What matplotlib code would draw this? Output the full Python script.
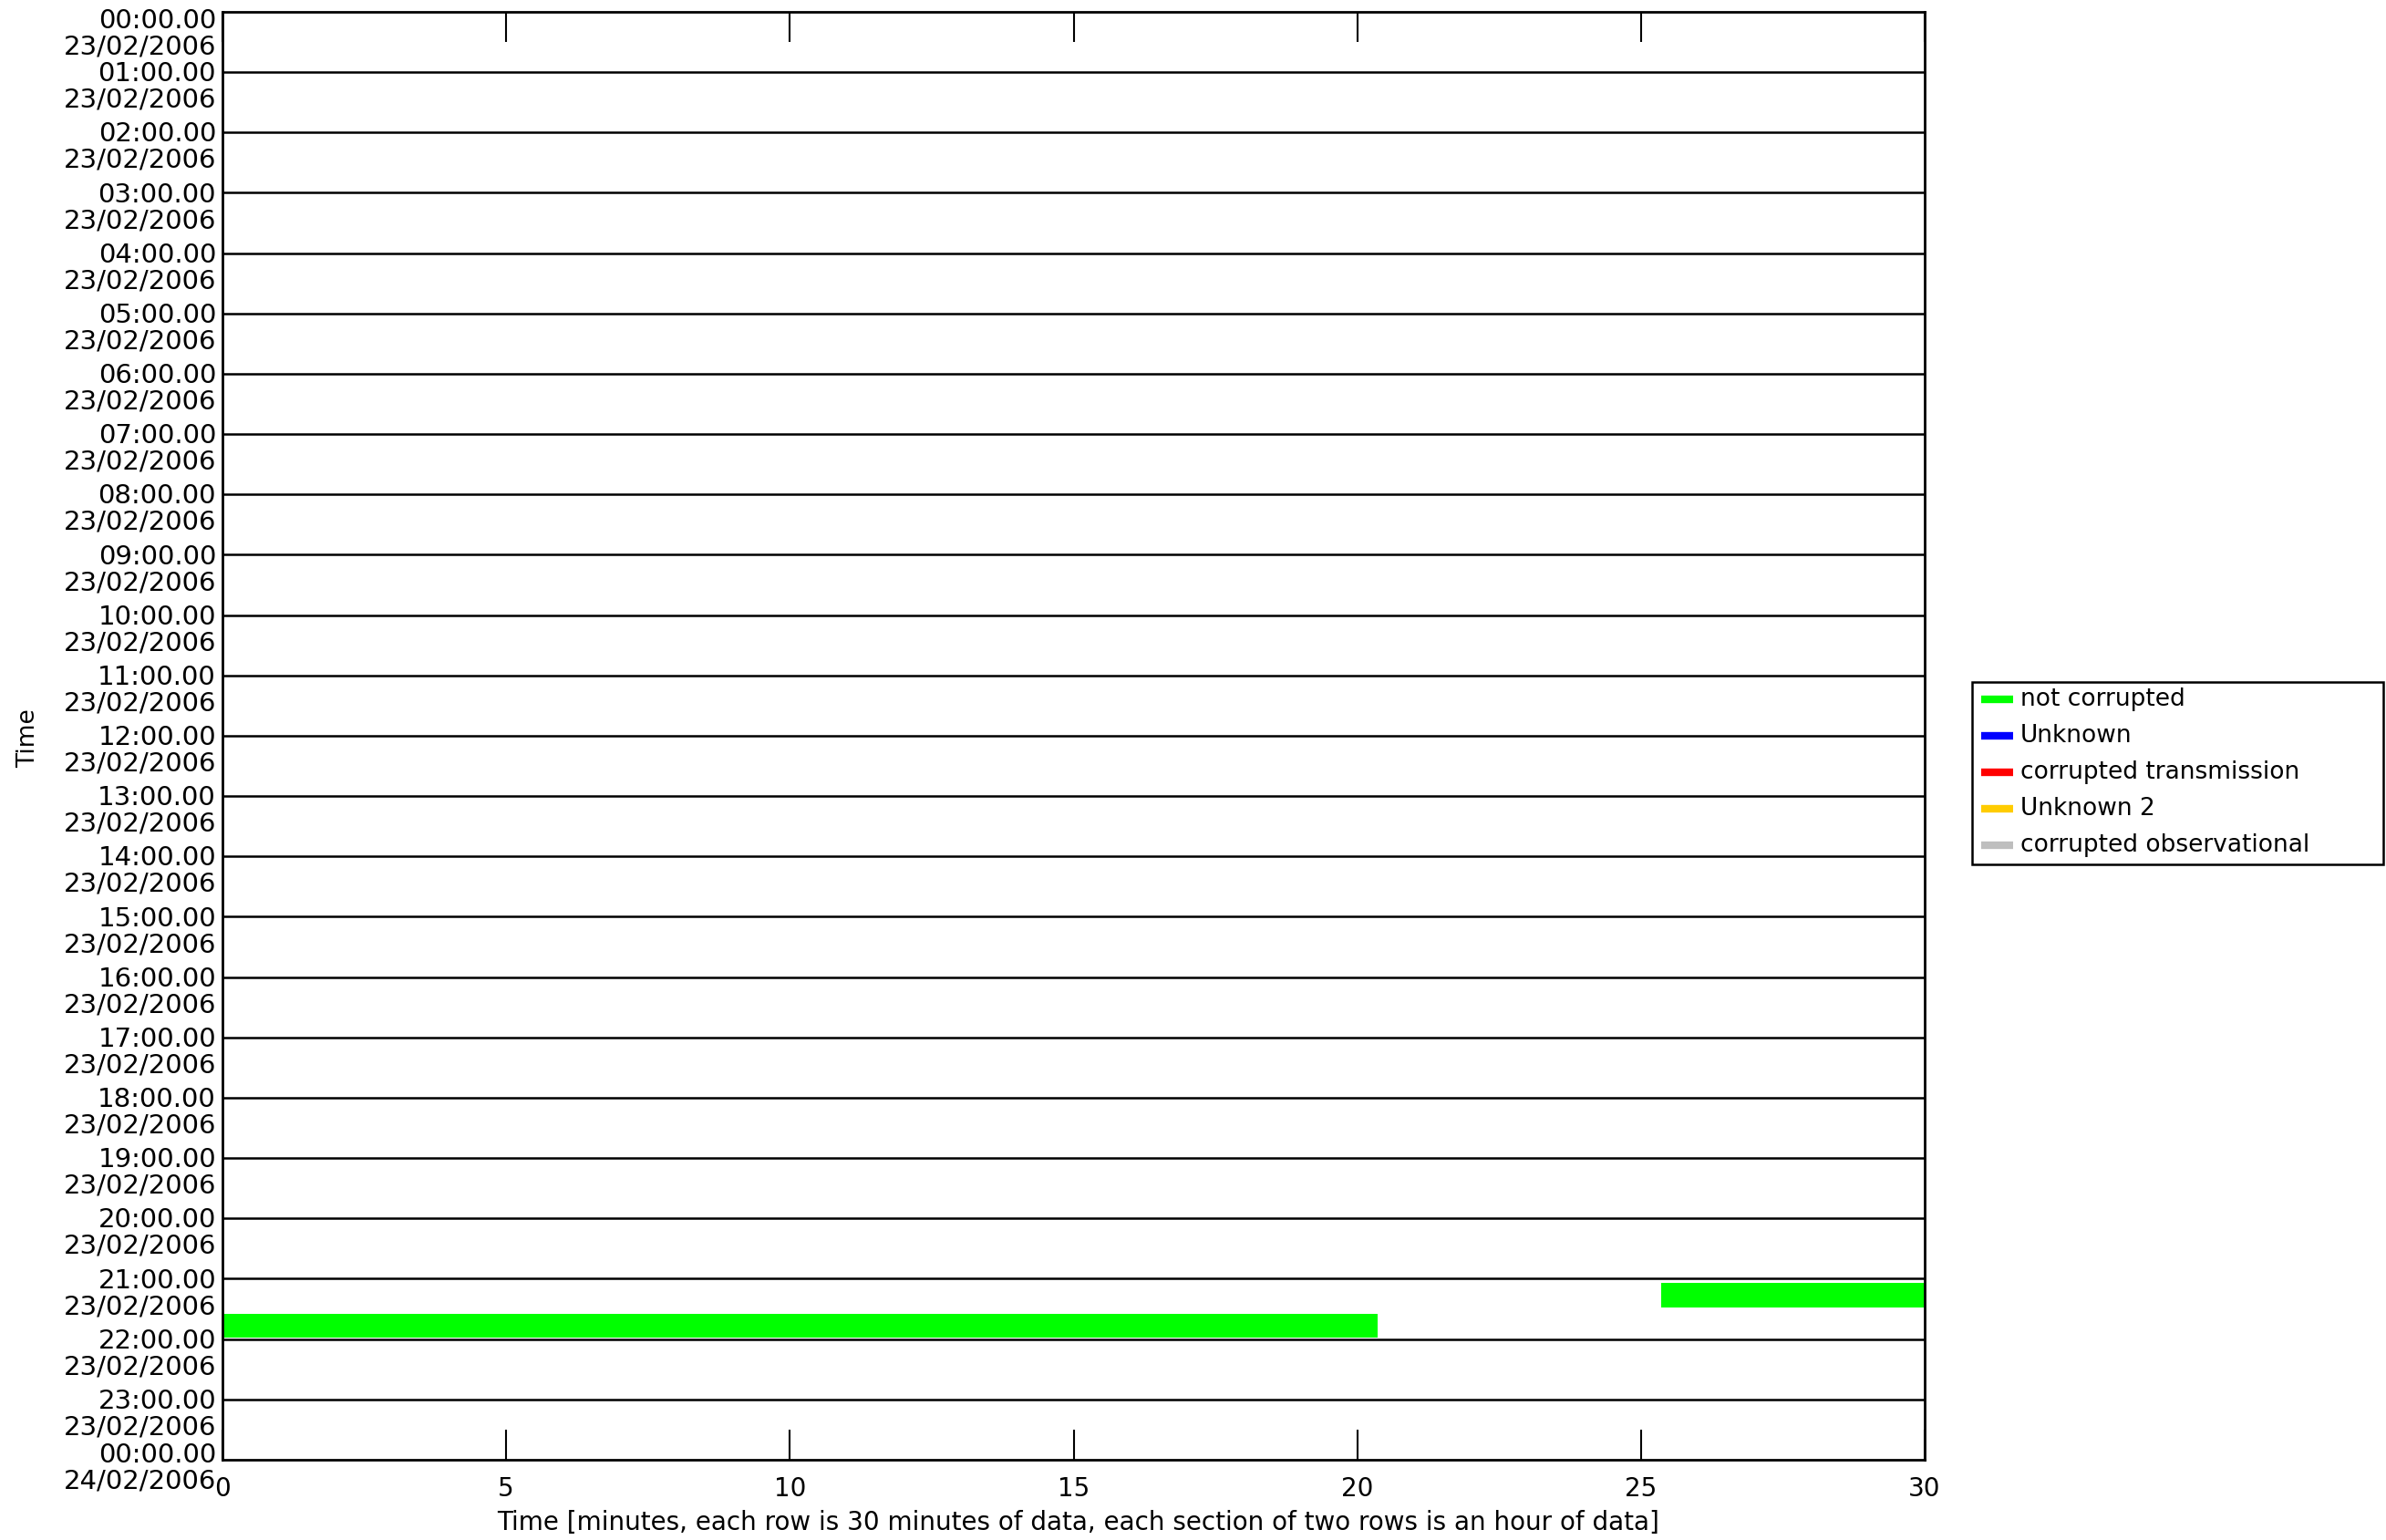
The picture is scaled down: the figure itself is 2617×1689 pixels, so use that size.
import matplotlib
matplotlib.use("Agg")
import matplotlib.pyplot as plt
from matplotlib.patches import Rectangle
from matplotlib.lines import Line2D

# ---- data ----
hour_labels = ["%02d:00.00" % h for h in range(24)] + ["00:00.00"]
date_labels = ["23/02/2006"] * 24 + ["24/02/2006"]
x_ticks = [0, 5, 10, 15, 20, 25, 30]
# half-hour row index (0 = 00:00-00:30), start minute, end minute
seg_rows = [42, 43]
seg_start = [25.36, 0.0]
seg_end = [30.0, 20.36]
seg_status = ["not corrupted", "not corrupted"]

legend_labels = ["not corrupted", "Unknown", "corrupted transmission",
                 "Unknown 2", "corrupted observational"]
legend_colors = ["#00FF00", "#0000FF", "#FF0000", "#FFCC00", "#BEBEBE"]
status_color = dict(zip(legend_labels, legend_colors))

W, H = 2617, 1689
fig = plt.figure(figsize=(W / 100, H / 100), dpi=100)
plt.rcParams['font.family'] = ['DejaVu Sans']

left, right, top, bottom = 244, 2111, 13, 1601
ax = fig.add_axes([left / W, 1 - bottom / H, (right - left) / W, (bottom - top) / H])
ax.set_xlim(0, 30)
ax.set_ylim(24, 0)

# bars
for r, s, e, st in zip(seg_rows, seg_start, seg_end, seg_status):
    y0 = r * 0.5 + 0.075
    ax.barh(y0 + 0.2, e - s, left=s, height=0.4, color=status_color[st],
            edgecolor='none', zorder=2)

# hour lines
for h in range(1, 24):
    ax.axhline(h, color='black', lw=1.8, zorder=3)

for sp in ax.spines.values():
    sp.set_linewidth(2.0)
    sp.set_zorder(4)

ax.set_xticks(x_ticks)
ax.set_xticklabels([str(t) for t in x_ticks], fontsize=20)
ax.tick_params(axis='x', direction='in', length=24, width=1.5, top=True,
               bottom=True, labeltop=False, pad=13)
ax.set_yticks([])

# y tick labels (two lines each)
n = len(hour_labels)
for i, (hl, dl) in enumerate(zip(hour_labels, date_labels)):
    dy = -1.5
    if i == 0:
        dy = -7.5
    elif i == n - 1:
        dy = 3.5
    ax.annotate(hl, xy=(0, i), xycoords=('axes fraction', 'data'),
                xytext=(-5, dy), textcoords='offset points', ha='right',
                va='center', fontsize=21, annotation_clip=False)
    ax.annotate(dl, xy=(0, i), xycoords=('axes fraction', 'data'),
                xytext=(-5, dy - 20.5), textcoords='offset points', ha='right',
                va='center', fontsize=21, annotation_clip=False)

fig.text(0.5 * (left + right) / W + 0.002, 1 - 1670 / H,
         "Time [minutes, each row is 30 minutes of data, each section of two rows is an hour of data]",
         ha='center', va='center', fontsize=20)
fig.text(31 / W, 1 - 810 / H, "Time", rotation=90, ha='center', va='center', fontsize=19)

# legend box
lx0, ly0, lx1, ly1 = 2163, 748, 2614, 948
fig.patches.append(Rectangle((lx0 / W, 1 - ly1 / H), (lx1 - lx0) / W, (ly1 - ly0) / H,
                             transform=fig.transFigure, fill=False,
                             edgecolor='black', lw=1.8))
for k, (lab, col) in enumerate(zip(legend_labels, legend_colors)):
    yy = 1 - (767 + k * 40) / H
    fig.lines.append(Line2D([2173 / W, 2208 / W], [yy, yy], transform=fig.transFigure,
                            color=col, lw=6, solid_capstyle='butt'))
    fig.text(2216 / W, yy, lab, ha='left', va='center', fontsize=19)

fig.savefig("out.png", dpi=100, facecolor='white')
